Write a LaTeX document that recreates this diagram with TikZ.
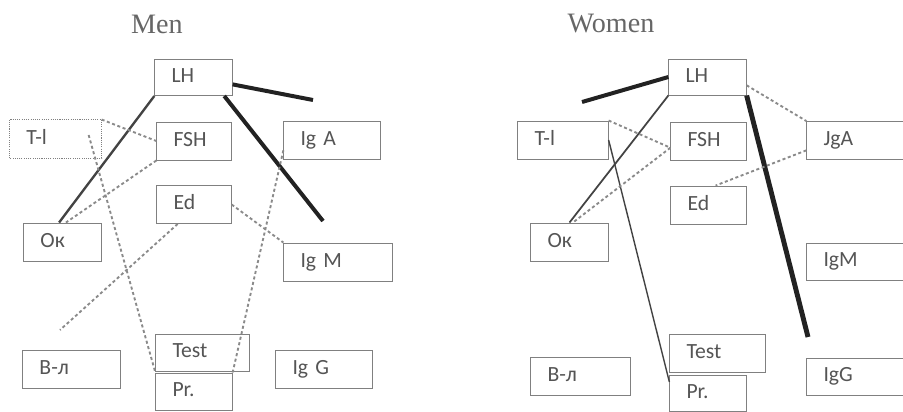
\documentclass[tikz,border=0pt]{standalone}
\usepackage{fontspec}
\newfontfamily\boxfont{Carlito}
\newfontfamily\titlefont{Liberation Serif}
\usetikzlibrary{calc}
\definecolor{boxgray}{HTML}{808080}
\definecolor{txtgray}{HTML}{555555}
\definecolor{lnblack}{HTML}{222222}
\definecolor{lndash}{HTML}{8A8A8A}
\tikzset{
    box/.style={draw=boxgray, line width=0.8pt, fill=white, inner xsep=0.5cm,
        text width=#1, align=left, minimum height=1.14cm,
        text height=0.44cm, text depth=0.12cm,
        font=\boxfont\fontsize{18.5}{20}\selectfont, text=txtgray},
    ttl/.style={font=\titlefont\fontsize{24}{26}\selectfont, text=txtgray!90},
    thickln/.style={lnblack, line width=3.4pt},
    solidln/.style={lnblack!85, line width=#1},
    dashln/.style={lndash, line width=1.6pt, dash pattern=on 2.6pt off 2.2pt},
}

\begin{document}
\begin{tikzpicture}[x=0.03cm, y=-0.03cm]
        \useasboundingbox (0,0) rectangle (903,411);

        % Men
        \node[ttl] (tm) at (157,24) {Men};
        \node[box=1.32cm, minimum height=1.08cm] (LH) at (193.5,77.5) {LH};
        \node[box=1.74cm, draw=none] (TI) at (55.5,139) {T-l};
        \draw[boxgray, line width=0.9pt, densely dotted] (TI.south west) rectangle (TI.north east);
        \node[box=1.23cm] (FSH) at (194,141) {FSH};
        \node[box=1.89cm] (IgA) at (332,140) {Ig A};
        \node[box=1.23cm] (Ed) at (194,204.5) {Ed};
        \node[box=1.32cm] (Ok) at (62.5,242) {Oк};
        \node[box=2.25cm] (IgM) at (338,262) {Ig M};
        \node[box=1.92cm] (Bl) at (71.5,369) {B-л};
        \node[box=1.80cm, minimum height=1.11cm] (Test) at (202.5,352.5) {Test};
        \node[box=1.29cm, minimum height=1.11cm] (Pr) at (194,391.5) {Pr.};
        \node[box=1.89cm] (IgG) at (324,369) {Ig G};

        \coordinate (m1) at (313,100);
        \coordinate (m2) at (323,221);
        \coordinate (m3) at (60,330);

        \draw[thickln] (LH.-10) -- (m1);
        \draw[thickln] (LH.-31) -- (m2);
        \draw[solidln=2pt] (LH.south west) -- (Ok.100);
        \draw[dashln] (TI.north east) -- (FSH.west);
        \draw[dashln] (FSH.south west) -- (Ok.80);
        \draw[dashln] ($(TI.east)+(-13,-4)$) -- (Pr.north west);
        \draw[dashln] (Ed.-130) -- (m3);
        \draw[dashln] (Ed.east) -- (IgM.north west);
        \draw[dashln] (IgA.192) -- (Pr.north east);

        % Women
        \node[ttl] (tw) at (611,24) {Women};
        \node[box=1.32cm, minimum height=1.08cm] (wLH) at (707.5,77) {LH};
        \node[box=1.71cm] (wTI) at (563,140) {T-l};
        \node[box=1.26cm] (wFSH) at (708.5,141) {FSH};
        \node[box=2.01cm] (wIgA) at (857,140.5) {JgA};
        \node[box=1.26cm] (wEd) at (708.5,205) {Ed};
        \node[box=1.32cm] (wOk) at (569.5,242) {Oк};
        \node[box=2.01cm, minimum height=1.11cm] (wIgM) at (857,261.5) {IgM};
        \node[box=1.98cm] (wBl) at (580.5,376) {B-л};
        \node[box=1.86cm] (wTest) at (717.5,353) {Test};
        \node[box=1.29cm, minimum height=1.08cm] (wPr) at (708,393) {Pr.};
        \node[box=2.01cm, minimum height=1.11cm] (wIgG) at (857,376.5) {IgG};

        \coordinate (w1) at (582,102);
        \coordinate (w2) at (808,337);

        \draw[thickln] (wLH.west) -- (w1);
        \draw[thickln, line width=4.2pt] (wLH.south east) -- (w2);
        \draw[solidln=1.5pt] (wLH.south west) -- (wOk.north);
        \draw[solidln=1.2pt] (wTI.east) -- (wPr.164);
        \draw[dashln] (wTI.north east) -- (wFSH.190);
        \draw[dashln] (wFSH.190) -- (wOk.80);
        \draw[dashln] (wLH.-12) -- (wIgA.north west);
        \draw[dashln] (wIgA.191) -- (wEd.70);
    \end{tikzpicture}
\end{document}
